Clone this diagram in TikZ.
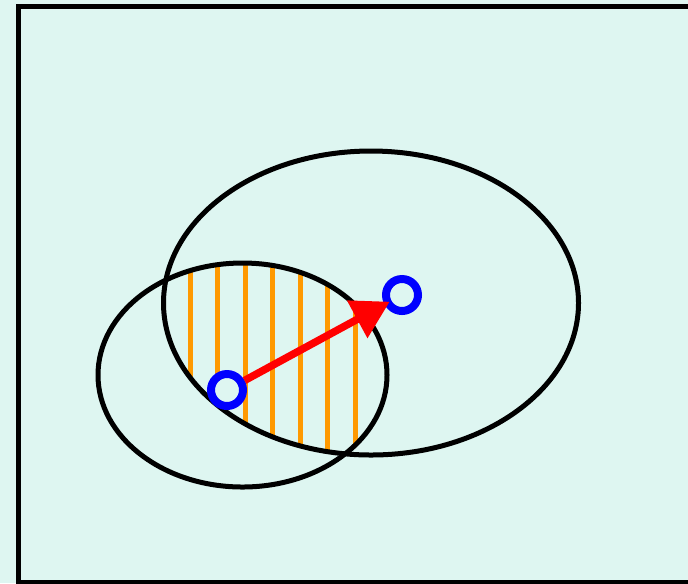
\documentclass[tikz,border=0pt]{standalone}
\usetikzlibrary{arrows.meta}
\definecolor{mint}{RGB}{222,246,241}
\definecolor{hatch}{RGB}{255,153,0}

\begin{document}
\begin{tikzpicture}[x=0.02cm, y=-0.02cm, >=Stealth, setline/.style={draw=black, line width=0.1cm}, hatchline/.style={draw=hatch, line width=0.1cm}, dot/.style={circle, draw=blue, line width=0.16cm, fill=mint, minimum size=0.64cm, inner sep=0pt}, vec/.style={draw=red, line width=0.15cm, -{Triangle[length=0.74cm, width=0.82cm]}, shorten >=-0.12cm}]
\useasboundingbox (0,0) rectangle (688,583);
\fill[mint] (0,0) rectangle (688,583);
\draw[setline] (18.5,6.5) rectangle (720,582);
% hatching of the common part
\begin{scope}
\clip (371,303) ellipse [x radius=207.5, y radius=152];
\clip (242.5,375) ellipse [x radius=144.5, y radius=112];
\foreach \x in {190,217.5,...,356} \draw[hatchline] (\x,150) -- (\x,500);
\end{scope}
\draw[setline] (371,303) ellipse [x radius=207.5, y radius=152];
\draw[setline] (242.5,375) ellipse [x radius=144.5, y radius=112];
\node[dot] (from) at (227,390) {};
\node[dot] (to) at (402,295) {};
\draw[vec] (from) -- (to);
\end{tikzpicture}
\end{document}
